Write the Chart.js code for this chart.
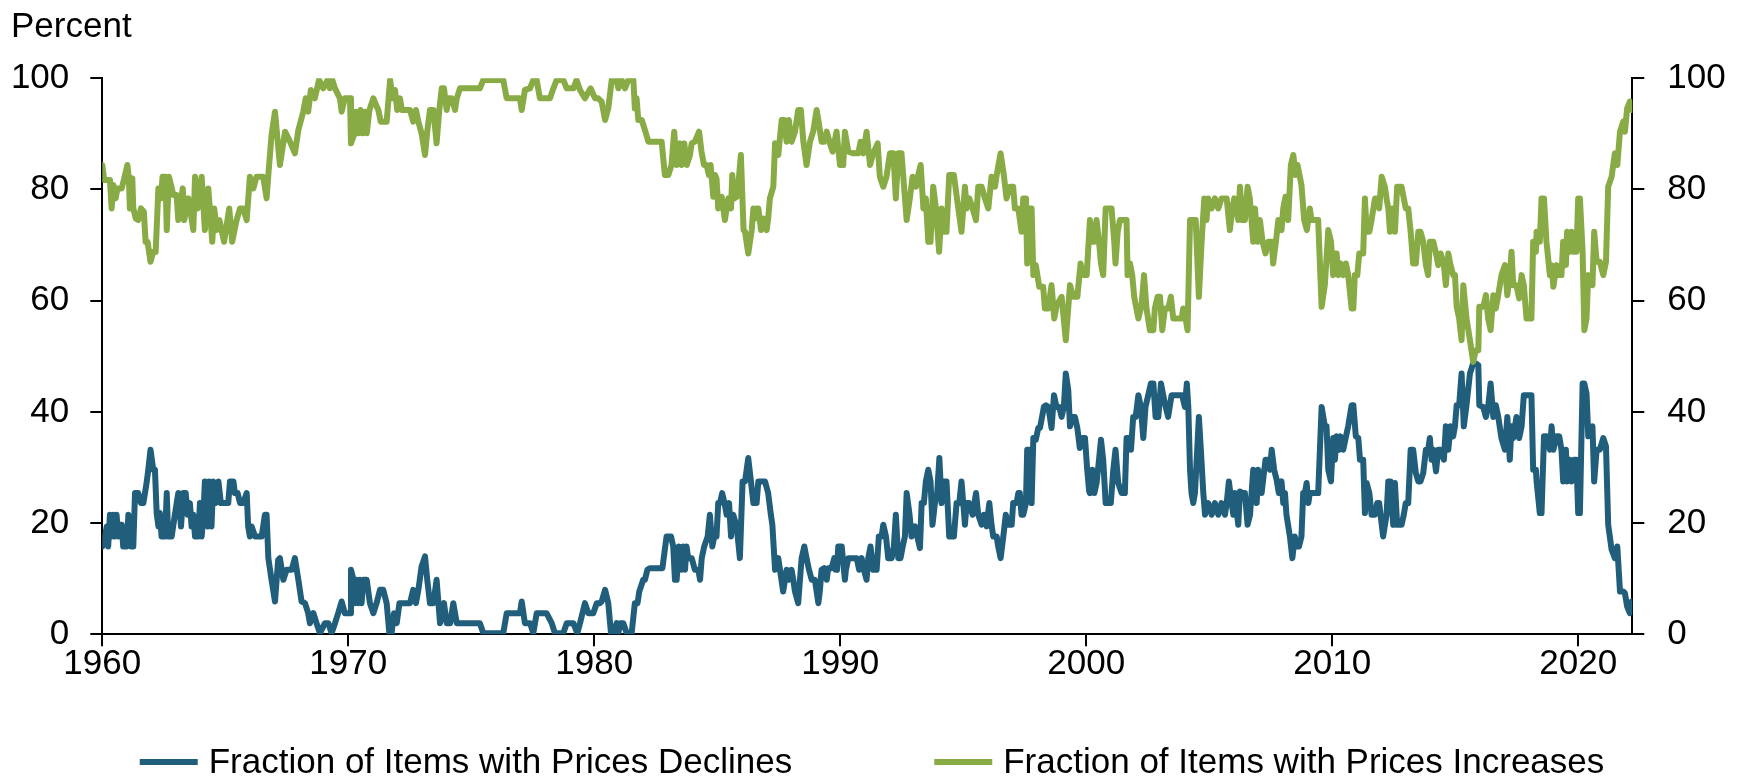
<!DOCTYPE html>
<html><head><meta charset="utf-8">
<script src="https://cdn.jsdelivr.net/npm/chart.js@4.4.1/dist/chart.umd.min.js"></script>
<style>html,body{margin:0;padding:0;background:#fff;overflow:hidden}#wrap{width:1744px;height:780px;position:relative}canvas{display:block}</style>
</head><body><div id="wrap"><canvas id="c" width="1744" height="780"></canvas></div>
<script>
const FONT = "'Liberation Sans', Arial, sans-serif";
const yAxisUnit = 'Percent';
const xTickValues = [1960, 1970, 1980, 1990, 2000, 2010, 2020];
const yTickValues = [0, 20, 40, 60, 80, 100];
const seriesLabels = ['Fraction of Items with Prices Declines', 'Fraction of Items with Prices Increases'];

// [decimal year, percent]
const declines = [
[1960.00,15.8],[1960.11,17.6],[1960.18,19.4],[1960.24,15.8],[1960.31,21.5],[1960.38,17.6],[1960.45,21.5],[1960.51,17.6],[1960.58,21.5],[1960.65,17.6],[1960.72,19.7],[1960.79,19.7],[1960.85,15.8],[1960.99,15.8],[1961.06,21.5],[1961.17,15.8],[1961.26,15.8],[1961.33,25.4],[1961.46,25.4],[1961.57,23.6],[1961.67,23.6],[1961.80,27.2],[1961.87,29.6],[1961.96,33.2],[1962.07,29.6],[1962.14,29.6],[1962.21,21.8],[1962.28,19.4],[1962.34,21.8],[1962.41,17.6],[1962.55,17.6],[1962.62,25.4],[1962.68,17.6],[1962.82,17.6],[1962.95,21.5],[1963.09,25.4],[1963.20,19.4],[1963.29,25.4],[1963.39,25.4],[1963.47,21.5],[1963.56,23.6],[1963.63,19.4],[1963.70,21.5],[1963.77,17.6],[1963.90,17.6],[1963.97,23.6],[1964.04,17.6],[1964.11,21.5],[1964.17,27.5],[1964.28,19.4],[1964.34,27.5],[1964.44,19.4],[1964.51,27.5],[1964.61,23.6],[1964.72,27.5],[1964.82,23.6],[1965.12,23.6],[1965.19,27.5],[1965.33,27.5],[1965.39,25.4],[1965.50,25.4],[1965.60,23.6],[1965.73,23.6],[1965.87,25.4],[1965.93,19.4],[1966.00,17.6],[1966.07,19.4],[1966.21,17.6],[1966.48,17.6],[1966.61,21.5],[1966.68,21.5],[1966.75,13.7],[1966.88,9.8],[1967.02,5.9],[1967.15,13.4],[1967.22,13.7],[1967.36,9.8],[1967.49,11.6],[1967.70,11.6],[1967.83,13.7],[1967.97,9.8],[1968.10,5.9],[1968.24,5.6],[1968.37,3.8],[1968.44,2.0],[1968.58,3.8],[1968.71,2.0],[1968.85,0.2],[1969.05,2.0],[1969.19,2.0],[1969.32,0.2],[1969.46,2.0],[1969.59,3.8],[1969.73,5.9],[1969.86,3.8],[1970.07,3.8],
[1970.11,11.6],[1970.21,9.8],[1970.27,5.6],[1970.34,9.8],[1970.41,5.6],[1970.48,9.8],[1970.54,5.6],[1970.61,9.8],[1970.75,9.8],[1970.88,5.6],[1971.02,3.8],[1971.15,5.6],[1971.29,8.0],[1971.42,8.0],[1971.56,5.6],[1971.67,0.2],[1971.76,0.2],[1971.86,3.8],[1971.97,2.0],[1972.08,5.6],[1972.51,5.6],[1972.64,8.0],[1972.75,5.6],[1972.85,8.0],[1972.98,12.2],[1973.12,14.0],[1973.21,9.8],[1973.32,5.6],[1973.46,5.6],[1973.59,9.8],[1973.73,2.0],[1973.80,3.8],[1973.89,5.6],[1974.00,2.0],[1974.14,2.0],[1974.27,5.6],[1974.41,2.0],[1975.35,2.0],[1975.49,0.2],[1976.30,0.2],[1976.44,3.8],[1976.98,3.8],[1977.05,5.9],[1977.18,2.0],[1977.39,2.0],[1977.52,0.2],[1977.66,3.8],[1978.06,3.8],[1978.27,2.0],[1978.40,0.2],[1978.74,0.2],[1978.88,2.0],[1979.15,2.0],[1979.31,0.2],[1979.42,2.0],[1979.62,5.6],[1979.76,3.8],[1979.96,3.8],[1980.10,5.6],[1980.23,5.6],
[1980.30,5.9],[1980.44,8.0],[1980.57,5.6],[1980.68,0.2],[1980.77,0.2],[1980.91,2.0],[1980.98,0.2],[1981.05,2.0],[1981.18,2.0],[1981.32,0.2],[1981.52,0.2],[1981.65,5.6],[1981.76,5.6],[1981.83,7.7],[1981.99,9.8],[1982.06,9.8],[1982.16,11.6],[1982.26,11.9],[1982.77,11.9],[1982.94,17.6],[1983.12,17.6],[1983.21,15.8],[1983.28,9.8],[1983.35,9.8],[1983.44,15.8],[1983.55,11.6],[1983.62,15.8],[1983.69,11.6],[1983.75,15.8],[1983.82,13.7],[1983.96,13.7],[1984.09,11.6],[1984.23,11.6],[1984.30,9.8],[1984.37,13.7],[1984.47,15.8],[1984.61,17.6],[1984.70,21.5],[1984.80,15.8],[1984.88,17.6],[1984.97,17.6],[1985.04,23.6],[1985.11,23.6],[1985.20,25.4],[1985.31,23.3],[1985.38,21.5],[1985.48,23.6],[1985.56,17.6],[1985.65,21.5],[1985.79,19.4],[1985.92,13.7],[1986.03,27.5],[1986.13,27.5],[1986.26,31.7],[1986.37,27.5],[1986.47,23.6],[1986.60,23.6],[1986.67,27.5],[1986.78,27.5],[1986.94,27.5],[1987.07,25.4],[1987.18,21.5],[1987.24,19.7],[1987.35,11.6],[1987.48,13.7],[1987.55,11.6],[1987.68,7.7],[1987.82,11.6],[1987.91,9.8],[1988.02,11.6],[1988.09,9.8],[1988.16,7.7],[1988.29,5.6],[1988.43,13.7],[1988.54,15.8],[1988.63,13.7],[1988.73,11.6],[1988.84,9.8],[1988.97,9.8],[1989.11,5.6],[1989.17,7.7],[1989.24,11.6],[1989.35,11.9],[1989.45,9.8],[1989.51,11.9],[1989.65,11.9],[1989.76,13.7],[1989.81,11.6],[1989.87,11.6],[1989.92,15.8],[1990.06,15.8],[1990.19,9.8],
[1990.23,11.6],[1990.33,13.7],[1990.67,13.7],[1990.77,11.6],[1990.87,13.7],[1990.96,11.6],[1991.07,9.8],[1991.14,13.7],[1991.23,15.8],[1991.34,11.6],[1991.48,11.6],[1991.57,17.6],[1991.68,17.6],[1991.75,19.7],[1991.86,17.6],[1991.95,13.7],[1992.09,13.7],[1992.18,15.8],[1992.26,21.5],[1992.36,13.7],[1992.45,13.7],[1992.54,15.8],[1992.63,17.6],[1992.70,25.4],[1992.81,21.8],[1992.90,17.6],[1993.04,19.4],[1993.13,17.6],[1993.24,15.5],[1993.31,23.6],[1993.40,23.6],[1993.48,27.5],[1993.58,29.6],[1993.67,27.5],[1993.75,19.7],[1993.85,23.6],[1993.94,25.4],[1994.03,31.7],[1994.12,23.6],[1994.22,27.5],[1994.32,27.5],[1994.43,17.6],[1994.62,17.6],[1994.73,23.6],[1994.84,23.6],[1994.93,27.5],[1995.07,19.7],[1995.14,23.6],[1995.24,23.6],[1995.38,21.5],[1995.52,25.4],[1995.61,21.5],[1995.75,19.7],[1995.84,21.5],[1995.95,19.4],[1996.06,23.6],[1996.15,19.7],[1996.22,17.6],[1996.36,17.6],[1996.42,15.8],[1996.52,13.7],[1996.63,17.6],[1996.73,21.5],[1996.83,19.7],[1996.97,19.7],[1997.03,23.6],[1997.17,23.6],[1997.24,25.4],[1997.30,25.4],[1997.37,21.5],[1997.44,21.5],[1997.55,23.6],[1997.60,33.2],[1997.68,33.2],[1997.78,23.6],[1997.85,35.3],[1997.95,35.0],[1998.05,37.1],[1998.12,37.1],[1998.28,40.9],[1998.36,41.2],[1998.46,40.9],[1998.59,37.1],[1998.69,43.0],[1998.79,40.9],[1998.90,40.9],[1999.00,39.1],[1999.09,40.9],[1999.17,46.9],[1999.27,43.9],[1999.34,37.4],[1999.45,39.1],[1999.54,39.1],[1999.64,37.1],[1999.74,33.5],[1999.85,35.3],[1999.95,35.3],[2000.04,29.6],[2000.12,25.7],
[2000.15,25.4],[2000.25,29.6],[2000.33,25.4],[2000.42,27.2],[2000.52,31.4],[2000.60,35.0],[2000.69,31.4],[2000.79,23.6],[2001.00,23.6],[2001.10,29.6],[2001.19,33.2],[2001.30,27.2],[2001.44,25.4],[2001.57,25.4],[2001.64,35.3],[2001.74,35.3],[2001.82,33.2],[2001.91,39.1],[2002.01,39.1],[2002.12,43.0],[2002.22,40.9],[2002.32,35.3],[2002.41,40.9],[2002.52,43.0],[2002.63,45.1],[2002.73,45.1],[2002.82,39.1],[2002.93,39.1],[2003.04,45.1],[2003.13,43.0],[2003.23,40.9],[2003.33,39.1],[2003.47,43.0],[2003.58,43.0],[2003.90,43.0],[2004.01,40.9],[2004.09,45.1],[2004.15,40.9],[2004.22,29.6],[2004.28,25.4],[2004.35,23.6],[2004.42,25.4],[2004.58,39.1],[2004.66,33.2],[2004.76,25.4],[2004.83,21.5],[2004.96,23.6],[2005.10,21.5],[2005.23,23.6],[2005.37,21.5],[2005.50,23.6],[2005.64,21.5],[2005.71,23.6],[2005.80,27.5],[2005.91,23.6],[2005.98,21.5],[2006.04,25.4],[2006.18,19.7],[2006.25,25.7],[2006.34,25.4],[2006.45,25.4],[2006.56,19.7],[2006.66,21.5],[2006.79,29.6],[2006.93,23.6],[2006.99,29.6],[2007.13,25.4],[2007.24,29.6],[2007.29,31.4],[2007.37,31.4],[2007.47,29.6],[2007.54,33.2],[2007.64,29.6],[2007.74,27.8],[2007.83,25.4],[2007.94,27.5],[2008.01,23.6],[2008.08,25.4],[2008.14,21.5],[2008.28,17.6],[2008.38,13.7],[2008.48,17.6],[2008.55,15.8],[2008.65,15.8],[2008.75,17.6],[2008.82,25.4],[2008.89,25.4],[2008.96,27.2],[2009.03,23.6],[2009.09,25.4],[2009.43,25.4],[2009.57,40.9],[2009.70,37.4],[2009.77,37.4],[2009.84,29.6],[2009.95,27.5],[2010.04,35.3],
[2010.11,31.4],[2010.18,35.6],[2010.29,33.2],[2010.34,35.6],[2010.45,33.2],[2010.56,35.6],[2010.65,37.4],[2010.79,41.2],[2010.86,41.2],[2010.96,35.6],[2011.06,35.3],[2011.13,31.4],[2011.26,31.4],[2011.33,21.8],[2011.40,27.2],[2011.51,25.4],[2011.60,21.5],[2011.74,21.5],[2011.83,23.6],[2011.91,23.6],[2012.07,17.6],[2012.21,21.5],[2012.28,27.5],[2012.37,27.5],[2012.48,19.7],[2012.55,27.2],[2012.64,19.7],[2012.82,19.7],[2012.91,21.5],[2012.99,23.6],[2013.09,23.6],[2013.19,33.2],[2013.29,33.2],[2013.40,29.0],[2013.50,27.5],[2013.59,27.5],[2013.70,29.0],[2013.81,33.2],[2013.90,33.2],[2013.97,35.3],[2014.04,31.4],[2014.11,33.2],[2014.22,29.3],[2014.31,33.2],[2014.41,33.2],[2014.54,31.4],[2014.62,37.4],[2014.72,33.2],[2014.81,37.4],[2014.92,35.6],[2014.99,37.4],[2015.06,41.2],[2015.16,41.2],[2015.26,46.9],[2015.35,37.4],[2015.46,41.2],[2015.60,46.9],[2015.73,48.7],[2015.84,48.7],[2015.94,48.4],[2015.98,41.2],[2016.14,40.9],[2016.25,39.1],[2016.34,40.9],[2016.44,45.1],[2016.55,39.1],[2016.65,41.2],[2016.75,39.1],[2016.88,35.3],[2017.02,33.2],[2017.12,39.1],[2017.22,31.4],[2017.29,37.4],[2017.36,35.3],[2017.49,39.1],[2017.60,35.3],[2017.70,37.4],[2017.79,43.0],[2017.90,43.0],[2018.10,43.0],[2018.17,29.6],[2018.28,29.6],[2018.31,27.5],[2018.44,21.8],[2018.51,21.8],[2018.61,35.6],[2018.71,35.6],[2018.85,33.2],[2018.92,37.4],[2018.99,33.2],[2019.12,35.6],[2019.23,35.6],[2019.32,33.2],[2019.39,27.5],[2019.50,33.2],[2019.55,27.5],[2019.66,31.4],[2019.73,27.5],[2019.83,31.4],[2019.93,31.4],[2020.00,21.8],[2020.07,21.8],[2020.18,45.1],[2020.25,45.1],[2020.34,43.3],[2020.41,35.6],[2020.58,37.4],[2020.65,27.5],[2020.75,33.2],[2020.88,33.2],[2021.02,35.3],[2021.13,33.8],[2021.18,26.0],[2021.22,19.7],[2021.36,15.2],[2021.49,13.7],[2021.59,15.8],[2021.70,7.7],[2021.83,7.7],[2021.90,7.4],[2021.99,5.0],[2022.10,3.8],[2022.17,5.9]
];

const increases = [
[1960.00,84.4],[1960.08,81.7],[1960.31,81.7],[1960.38,76.6],[1960.45,80.8],[1960.54,78.4],[1960.62,80.2],[1960.79,80.2],[1960.89,82.0],[1961.02,84.4],[1961.08,82.0],[1961.12,76.6],[1961.22,82.0],[1961.26,76.6],[1961.36,74.8],[1961.46,74.5],[1961.57,76.6],[1961.69,76.0],[1961.76,70.6],[1961.84,70.6],[1961.96,67.0],[1962.07,68.8],[1962.17,68.8],[1962.28,80.2],[1962.38,78.4],[1962.45,82.3],[1962.57,82.3],[1962.62,72.7],[1962.71,82.3],[1962.89,79.0],[1963.02,79.0],[1963.09,74.5],[1963.27,80.2],[1963.33,74.5],[1963.50,78.4],[1963.70,72.7],[1963.77,82.3],[1963.88,76.6],[1964.04,82.3],[1964.17,72.7],[1964.31,80.2],[1964.47,70.6],[1964.55,76.6],[1964.65,72.7],[1964.76,74.5],[1964.95,70.6],[1965.16,76.6],[1965.28,70.6],[1965.46,74.5],[1965.60,76.6],[1965.73,76.6],[1965.87,74.5],[1966.00,82.3],[1966.14,80.2],[1966.27,82.3],[1966.54,82.3],[1966.68,78.4],[1966.75,82.6],[1966.88,89.8],[1967.02,94.0],[1967.22,84.4],[1967.43,90.4],[1967.63,88.6],[1967.83,86.5],[1967.97,90.7],[1968.17,94.0],[1968.27,96.4],[1968.37,94.0],[1968.48,97.9],[1968.64,96.4],[1968.81,99.7],[1968.98,98.2],[1969.16,99.7],[1969.25,98.2],[1969.35,99.7],[1969.46,98.2],[1969.66,96.4],[1969.73,94.0],[1969.86,96.4],[1970.07,96.4],[1970.11,88.3],
[1970.23,89.8],[1970.31,94.0],[1970.41,90.1],[1970.50,94.3],[1970.58,90.1],[1970.68,94.0],[1970.75,90.1],[1970.86,94.3],[1971.02,96.4],[1971.13,95.2],[1971.22,94.3],[1971.32,92.2],[1971.56,92.2],[1971.70,99.7],[1971.80,96.4],[1971.90,97.9],[1971.99,94.3],[1972.10,96.4],[1972.18,94.3],[1972.51,94.3],[1972.64,92.2],[1972.75,94.3],[1972.85,92.2],[1972.98,90.1],[1973.12,86.2],[1973.21,90.4],[1973.32,94.3],[1973.46,94.3],[1973.59,88.3],[1973.70,94.3],[1973.80,98.2],[1973.89,98.2],[1974.00,94.3],[1974.07,96.4],[1974.20,96.4],[1974.34,94.3],[1974.41,96.4],[1974.54,98.2],[1975.35,98.2],[1975.49,99.7],[1976.30,99.7],[1976.44,96.4],[1976.98,96.4],[1977.05,94.3],[1977.18,97.9],[1977.39,98.2],[1977.52,99.7],[1977.66,99.7],[1977.79,96.4],[1978.20,96.4],[1978.34,98.2],[1978.47,99.7],[1978.74,99.7],[1978.88,98.2],[1979.15,98.2],[1979.28,99.7],[1979.42,97.9],[1979.62,96.4],[1979.85,98.2],[1980.03,96.4],
[1980.16,96.4],[1980.30,95.8],[1980.44,92.5],[1980.57,94.6],[1980.71,99.7],[1980.91,99.7],[1980.98,98.2],[1981.11,99.7],[1981.25,98.2],[1981.38,99.7],[1981.59,99.7],[1981.65,94.6],[1981.72,96.4],[1981.79,92.5],[1981.93,92.5],[1982.06,90.7],[1982.20,88.6],[1982.74,88.6],[1982.87,82.6],[1983.01,82.6],[1983.14,84.4],[1983.25,90.4],[1983.35,84.4],[1983.48,88.3],[1983.55,84.4],[1983.66,88.3],[1983.76,84.4],[1983.89,86.2],[1983.96,88.3],[1984.09,88.6],[1984.26,90.4],[1984.36,86.8],[1984.46,84.4],[1984.57,84.4],[1984.66,82.6],[1984.73,84.4],[1984.84,78.7],[1984.91,82.6],[1984.97,82.0],[1985.04,76.6],[1985.18,78.7],[1985.31,74.5],[1985.45,78.4],[1985.56,76.6],[1985.61,82.6],[1985.69,78.4],[1985.79,78.7],[1985.85,80.5],[1985.96,86.2],[1986.07,72.7],[1986.13,72.4],[1986.26,68.5],[1986.40,72.7],[1986.47,76.6],[1986.53,74.8],[1986.60,76.6],[1986.67,76.6],[1986.78,72.7],[1986.87,74.8],[1987.01,72.7],[1987.07,74.8],[1987.14,78.4],[1987.28,80.5],[1987.35,88.3],[1987.48,86.2],[1987.62,92.5],[1987.72,92.5],[1987.82,88.6],[1987.91,92.5],[1988.02,88.6],[1988.16,90.4],[1988.29,94.3],[1988.40,94.3],[1988.50,88.6],[1988.63,84.4],[1988.77,88.6],[1988.90,90.4],[1989.04,94.3],[1989.11,92.5],[1989.24,88.6],[1989.35,88.6],[1989.45,90.4],[1989.58,88.3],
[1989.69,86.8],[1989.85,90.4],[1989.99,84.4],[1990.12,84.4],[1990.19,90.4],[1990.33,86.8],[1990.53,86.5],[1990.73,86.5],[1990.83,88.6],[1990.94,86.5],[1991.07,90.4],[1991.21,84.4],[1991.34,86.5],[1991.52,88.3],[1991.61,82.3],[1991.75,80.5],[1991.88,82.3],[1992.02,86.5],[1992.16,86.5],[1992.26,78.4],[1992.36,86.5],[1992.49,86.5],[1992.70,74.5],[1992.83,78.4],[1992.94,82.3],[1993.08,80.5],[1993.17,82.6],[1993.27,84.4],[1993.38,76.6],[1993.48,78.4],[1993.58,70.6],[1993.67,70.6],[1993.78,80.5],[1993.89,76.6],[1994.02,68.8],[1994.12,76.6],[1994.22,72.4],[1994.32,72.4],[1994.43,82.6],[1994.62,82.6],[1994.80,76.6],[1994.93,72.4],[1995.07,80.5],[1995.14,76.6],[1995.25,78.4],[1995.38,76.6],[1995.52,74.5],[1995.61,80.5],[1995.75,80.5],[1995.88,78.4],[1996.02,76.6],[1996.15,82.3],[1996.29,80.5],[1996.36,82.6],[1996.52,86.5],[1996.65,82.6],[1996.76,78.4],[1996.90,80.5],[1997.03,80.5],[1997.10,76.6],[1997.24,76.6],[1997.37,72.4],[1997.44,78.4],[1997.55,78.4],[1997.60,66.7],[1997.68,76.6],[1997.78,76.6],[1997.85,64.6],[1997.95,66.4],[1998.09,62.5],[1998.25,62.5],[1998.32,58.6],[1998.46,58.6],[1998.59,62.8],[1998.70,56.8],[1998.80,59.2],[1999.00,60.7],[1999.17,52.9],[1999.34,62.8],[1999.47,60.7],[1999.64,60.7],[1999.77,66.7],[1999.88,64.6],[2000.02,64.6],[2000.15,74.5],
[2000.25,70.6],[2000.33,70.6],[2000.42,74.5],[2000.52,70.6],[2000.60,66.7],[2000.69,64.6],[2000.79,76.6],[2001.03,76.6],[2001.14,70.6],[2001.19,66.7],[2001.28,72.4],[2001.37,74.5],[2001.64,74.5],[2001.68,64.6],[2001.78,66.7],[2001.87,64.6],[2001.95,60.7],[2002.12,56.8],[2002.25,59.2],[2002.35,64.6],[2002.45,58.6],[2002.59,54.7],[2002.73,54.7],[2002.79,58.6],[2002.90,60.7],[2003.00,60.7],[2003.09,54.7],[2003.20,58.6],[2003.34,58.6],[2003.44,60.7],[2003.54,56.8],[2003.88,56.8],[2003.94,58.6],[2004.04,56.8],[2004.12,54.7],[2004.22,74.5],[2004.35,74.5],[2004.45,74.5],[2004.58,60.7],[2004.69,70.6],[2004.80,78.4],[2004.89,74.5],[2004.96,78.4],[2005.10,76.6],[2005.23,78.4],[2005.37,76.6],[2005.50,78.4],[2005.71,78.4],[2005.84,72.7],[2005.94,76.6],[2006.02,78.4],[2006.18,74.5],[2006.25,80.5],[2006.34,74.5],[2006.45,74.5],[2006.56,80.5],[2006.65,78.4],[2006.79,70.6],[2006.86,76.6],[2006.97,70.6],[2007.06,74.5],[2007.17,70.6],[2007.29,68.5],[2007.40,70.6],[2007.54,70.6],[2007.60,66.7],[2007.71,70.6],[2007.81,74.5],[2007.94,72.7],[2008.01,76.6],[2008.10,78.7],[2008.21,74.5],[2008.32,84.4],[2008.42,86.2],[2008.51,82.6],[2008.59,84.4],[2008.75,80.8],[2008.86,74.5],[2008.97,72.7],[2009.09,76.6],[2009.16,74.5],[2009.43,74.5],[2009.57,58.9],[2009.70,62.8],[2009.84,72.7],[2009.95,70.6],[2010.04,64.6],
[2010.11,68.5],[2010.18,68.5],[2010.25,64.6],[2010.34,66.7],[2010.45,64.6],[2010.56,66.7],[2010.65,64.6],[2010.79,58.6],[2010.86,58.6],[2010.92,64.6],[2011.02,64.6],[2011.10,68.5],[2011.26,68.5],[2011.33,78.4],[2011.40,72.4],[2011.51,72.4],[2011.60,74.5],[2011.74,78.4],[2011.83,78.4],[2011.91,76.6],[2012.01,82.3],[2012.14,80.5],[2012.21,78.4],[2012.28,76.6],[2012.35,72.4],[2012.45,76.6],[2012.55,72.4],[2012.64,80.5],[2012.82,80.5],[2012.91,78.4],[2012.99,76.6],[2013.09,76.6],[2013.19,72.4],[2013.29,66.7],[2013.40,66.7],[2013.50,72.4],[2013.59,72.4],[2013.70,70.6],[2013.81,66.4],[2013.90,64.6],[2013.97,70.6],[2014.11,70.6],[2014.22,68.5],[2014.31,66.4],[2014.41,68.5],[2014.54,66.4],[2014.62,62.8],[2014.72,68.5],[2014.81,66.4],[2014.92,64.6],[2014.99,64.6],[2015.06,58.9],[2015.16,56.8],[2015.26,52.9],[2015.33,62.8],[2015.46,56.8],[2015.60,52.9],[2015.73,49.0],[2015.84,51.1],[2015.94,51.1],[2015.98,58.9],[2016.14,58.9],[2016.25,61.0],[2016.34,56.8],[2016.44,54.7],[2016.55,61.0],[2016.65,58.6],[2016.75,61.0],[2016.88,64.6],[2017.02,66.4],[2017.12,61.0],[2017.22,64.6],[2017.29,68.8],[2017.36,62.8],[2017.49,62.8],[2017.60,60.4],[2017.70,64.6],[2017.79,62.8],[2017.90,56.8],[2018.10,56.8],[2018.17,70.6],[2018.28,68.8],[2018.31,72.4],[2018.44,70.6],[2018.51,78.4],[2018.61,78.4],[2018.71,70.6],[2018.85,64.6],[2018.92,66.4],[2018.99,62.5],[2019.12,66.4],[2019.23,64.6],[2019.32,64.6],[2019.39,70.6],[2019.50,66.4],[2019.55,72.4],[2019.66,68.8],[2019.73,72.4],[2019.83,68.8],[2019.93,68.8],[2020.00,78.4],[2020.07,78.4],[2020.18,68.8],[2020.25,54.7],[2020.34,56.8],[2020.41,64.6],[2020.58,62.8],[2020.65,72.4],[2020.75,67.0],[2020.88,67.0],[2021.02,64.6],[2021.13,67.0],[2021.22,80.5],[2021.36,82.3],[2021.49,86.5],[2021.59,84.4],[2021.70,90.4],[2021.83,92.2],[2021.90,90.4],[2021.99,94.6],[2022.10,95.8],[2022.17,94.3]
];

const BLUE = '#215e7b';
const GREEN = '#88ab45';
const AXIS_FONT = { family: FONT, size: 35 };

const extrasPlugin = {
  id: 'extras',
  afterDraw(chart) {
    const ctx = chart.ctx;
    ctx.save();
    ctx.font = '35px ' + FONT;
    ctx.fillStyle = '#000';
    ctx.textAlign = 'left';
    ctx.textBaseline = 'alphabetic';
    ctx.fillText(yAxisUnit, 11, 37);
    const items = [
      { text: seriesLabels[0], color: BLUE },
      { text: seriesLabels[1], color: GREEN }
    ];
    const sample = 58, gap = 11, between = 142;
    const widths = items.map(it => sample + gap + ctx.measureText(it.text).width);
    const total = widths.reduce((a, b) => a + b, 0) + between * (items.length - 1);
    let x = (chart.width - total) / 2;
    items.forEach((it, i) => {
      ctx.strokeStyle = it.color;
      ctx.lineWidth = 6;
      ctx.lineCap = 'butt';
      ctx.beginPath();
      ctx.moveTo(x, 762);
      ctx.lineTo(x + sample, 762);
      ctx.stroke();
      ctx.fillStyle = '#000';
      ctx.fillText(it.text, x + sample + gap, 773);
      x += widths[i] + between;
    });
    ctx.restore();
  }
};

const axisCommon = {
  grid: { drawOnChartArea: false, drawTicks: true, tickLength: 12, color: '#000', lineWidth: 2 },
  border: { display: true, color: '#000', width: 2 }
};

new Chart(document.getElementById('c'), {
  type: 'line',
  data: {
    datasets: [
      { label: seriesLabels[0], data: declines.map(p => ({ x: p[0], y: p[1] })), borderColor: BLUE, backgroundColor: BLUE,
        borderWidth: 6, pointRadius: 0, tension: 0, fill: false, order: 1, borderJoinStyle: 'round', borderCapStyle: 'round', yAxisID: 'y' },
      { label: seriesLabels[1], data: increases.map(p => ({ x: p[0], y: p[1] })), borderColor: GREEN, backgroundColor: GREEN,
        borderWidth: 6, pointRadius: 0, tension: 0, fill: false, order: 0, borderJoinStyle: 'round', borderCapStyle: 'round', yAxisID: 'y' }
    ]
  },
  options: {
    responsive: false,
    devicePixelRatio: 1,
    animation: false,
    events: [],
    layout: { padding: { top: 78.3, bottom: 780 - 634.3 - 70, left: 0, right: 0 } },
    plugins: { legend: { display: false }, tooltip: { enabled: false }, title: { display: false } },
    scales: {
      x: Object.assign({}, axisCommon, {
        type: 'linear', position: 'bottom', min: 1960, max: 2022.2,
        afterBuildTicks: s => { s.ticks = xTickValues.map(v => ({ value: v })); },
        afterFit: s => { s.height = 70; },
        ticks: { font: AXIS_FONT, color: '#000', padding: -3, maxRotation: 0, autoSkip: false, callback: v => String(v) }
      }),
      y: Object.assign({}, axisCommon, {
        position: 'left', min: 0, max: 100,
        afterBuildTicks: s => { s.ticks = yTickValues.map(v => ({ value: v })); },
        afterFit: s => { s.width = 102.3; },
        ticks: { font: AXIS_FONT, color: '#000', padding: 21, callback: v => String(v) }
      }),
      y2: Object.assign({}, axisCommon, {
        position: 'right', min: 0, max: 100,
        afterBuildTicks: s => { s.ticks = yTickValues.map(v => ({ value: v })); },
        afterFit: s => { s.width = 1744 - 1632.3; },
        ticks: { font: AXIS_FONT, color: '#000', padding: 23, callback: v => String(v) }
      })
    }
  },
  plugins: [extrasPlugin]
});
</script>
</body></html>
